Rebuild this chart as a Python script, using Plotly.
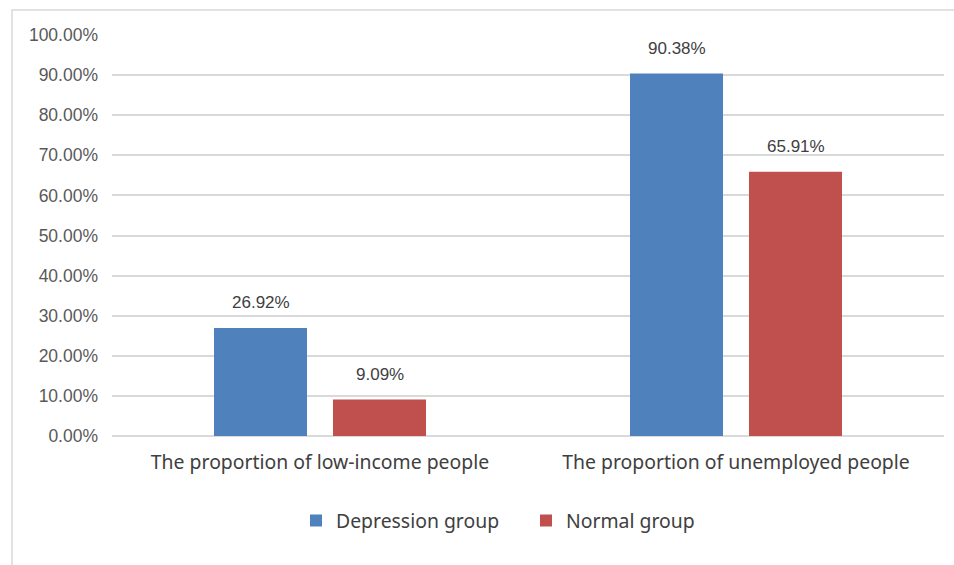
import plotly.graph_objects as go

categories = ["The proportion of low-income people", "The proportion of unemployed people"]
depression = [0.2692, 0.9038]
normal = [0.0909, 0.6591]
y_ticks = [i / 10 for i in range(11)]

W, H = 954, 565
L, R, T, B = 112, 10, 35, 129
pw = W - L - R
ph = H - T - B
slot = pw / len(categories)
bw = 93 / slot
gap = 26 / slot

blue = "#4F81BD"
red = "#C0504D"
tick_font = dict(family="Liberation Sans", size=17.5, color="#595959")
cat_font = dict(family="Noto Sans", size=19.4, color="#404040")

fig = go.Figure()
fig.add_trace(go.Bar(x=list(range(len(categories))), y=depression, name="Depression group",
                     marker=dict(color=blue, line=dict(width=0)),
                     width=bw, offset=-(bw + gap / 2)))
fig.add_trace(go.Bar(x=list(range(len(categories))), y=normal, name="Normal group",
                     marker=dict(color=red, line=dict(width=0)),
                     width=bw, offset=gap / 2))

annotations = []
for i, (d, n) in enumerate(zip(depression, normal)):
    for v, off in ((d, -(bw + gap) / 2), (n, (bw + gap) / 2)):
        annotations.append(dict(x=i + off, y=v, xref="x", yref="y", text=f"{v*100:.2f}%",
                                showarrow=False, yanchor="bottom", yshift=14,
                                font=dict(family="Liberation Sans", size=17, color="#404040")))

fig.update_layout(
    width=W, height=H,
    margin=dict(l=L, r=R, t=T, b=B),
    paper_bgcolor="white", plot_bgcolor="white",
    barmode="overlay",
    annotations=annotations,
    showlegend=True,
    legend=dict(orientation="h", x=(311 - L - 15) / pw, xanchor="left", y=-0.212, yanchor="middle",
                font=cat_font, itemwidth=30, traceorder="normal",
                entrywidth=185, entrywidthmode="pixels"),
    xaxis=dict(tickmode="array", tickvals=list(range(len(categories))), ticktext=categories,
               range=[-0.5, len(categories) - 0.5], showgrid=False, showline=False,
               zeroline=False, tickfont=cat_font, ticks="", ticklabelstandoff=13),
    yaxis=dict(range=[0, 1], tickvals=y_ticks, tickformat=".2%", showgrid=True,
               gridcolor="#D9D9D9", gridwidth=1.5, zeroline=True, zerolinecolor="#D9D9D9",
               zerolinewidth=1.5, showline=False, tickfont=tick_font, ticks="", ticklabelstandoff=13),
    shapes=[dict(type="rect", xref="paper", yref="paper",
                 x0=(12 - L) / pw, x1=(W + 20 - L) / pw,
                 y0=-(H + 20 - T - ph) / ph, y1=(H - B - 10) / ph,
                 line=dict(color="#D9D9D9", width=1.5), fillcolor="rgba(0,0,0,0)", layer="below")],
)

fig.write_html("out.html")
